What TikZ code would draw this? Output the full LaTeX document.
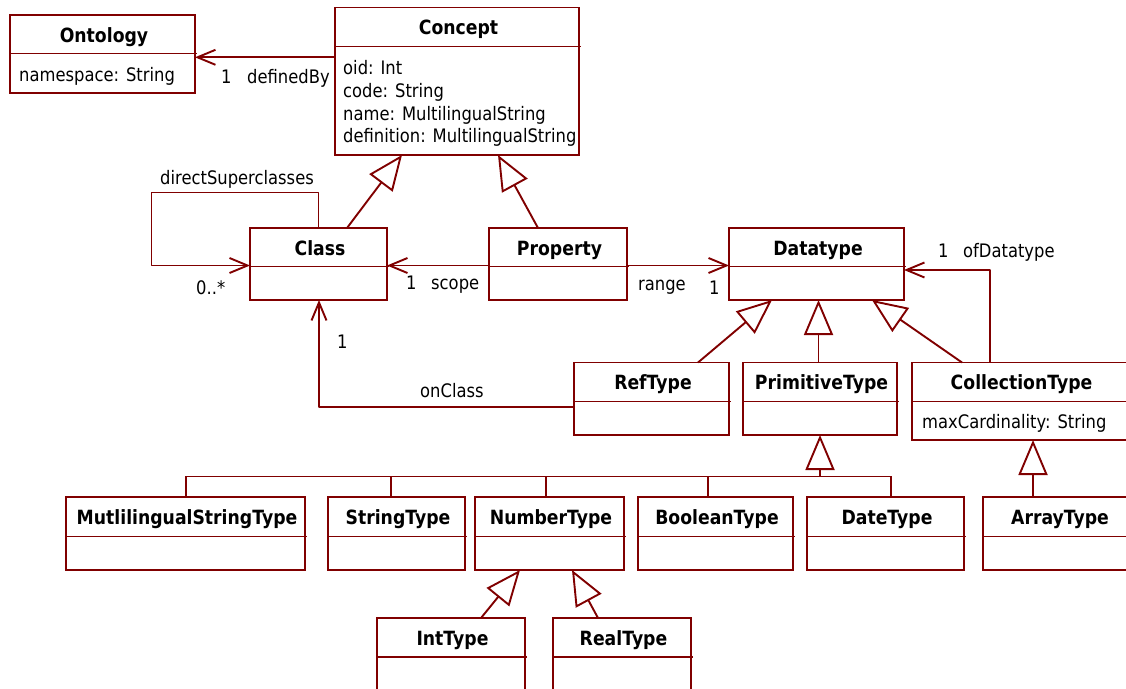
\documentclass[tikz,border=0pt]{standalone}
\usepackage{fontspec}
\setmainfont{DejaVu Sans}[FakeStretch=0.88]
\usetikzlibrary{arrows.meta}
\definecolor{umlred}{RGB}{128,0,0}

% UML class box: #1 name, #2 x1, #3 y1, #4 x2, #5 y2, #6 divider y, #7 title
\newcommand\umlclass[7]{%
  \node[umlbox, minimum width={(#4-#2)*1pt}, minimum height={(#5-#3)*1pt}] (#1) at (#2,#3) {};
  \draw[umlline] (#2,#6) -- ({#4+2},#6);
  \node[umltitle] (#1-t) at ({(#2+#4)/2+1.5},{(#3+#6)/2+0.8}) {#7};
}

\begin{document}
\begin{tikzpicture}[x=1pt,y=-1pt,
  umlline/.style={draw=umlred, line width=1.9pt},
  umlbox/.style={umlline, rectangle, anchor=north west, inner sep=0pt, outer sep=0pt},
  umltitle/.style={font=\fontsize{19.6}{23}\selectfont\bfseries, inner sep=0pt, text height=14.3pt, text depth=0pt},
  txt/.style={font=\fontsize{18.6}{23}\selectfont, inner sep=0pt, text height=13.4pt, text depth=0pt, anchor=west},
  assoc/.style={umlline, line join=round, -{Straight Barb[length=18pt,width=15pt]}},
  gen/.style={umlline, line join=round, -{Triangle[open,length=35pt,width=29pt]}},
]
\clip (0,0) rectangle (1126,688);

% classes
\umlclass{ontology}{10}{15}{195}{93}{53.5}{Ontology}
\umlclass{concept}{335}{7.5}{579}{155}{46.5}{Concept}
\umlclass{class}{250}{228}{387}{300}{266.5}{Class}
\umlclass{property}{489}{228}{627}{300}{266.5}{Property}
\umlclass{datatype}{729}{228}{904}{300}{266.5}{Datatype}
\umlclass{reftype}{574}{362.5}{729}{435}{401.5}{RefType}
\umlclass{primtype}{743}{362.5}{897}{435}{401.5}{PrimitiveType}
\umlclass{colltype}{912}{362.5}{1128}{440}{401.5}{CollectionType}
\umlclass{mlstype}{66}{497}{305}{570}{536.5}{MutlilingualStringType}
\umlclass{strtype}{328}{497}{465}{570}{536.5}{StringType}
\umlclass{numtype}{475}{497}{624}{570}{536.5}{NumberType}
\umlclass{booltype}{638}{497}{793}{570}{536.5}{BooleanType}
\umlclass{datetype}{807}{497}{964}{570}{536.5}{DateType}
\umlclass{arrtype}{983}{497}{1134}{570}{536.5}{ArrayType}
\umlclass{inttype}{377}{618}{525}{700}{657}{IntType}
\umlclass{realtype}{553}{618}{691}{700}{657}{RealType}

% attributes
\node[txt] (ontology-a1) at (19,75) {namespace: String};
\node[txt] (concept-a1) at (343,68) {oid: Int};
\node[txt] (concept-a2) at (343,90.7) {code: String};
\node[txt] (concept-a3) at (343,113.3) {name: MultilingualString};
\node[txt] (concept-a4) at (343,136) {definition: MultilingualString};
\node[txt] (colltype-a1) at (922,421.5) {maxCardinality: String};

% associations
\draw[assoc] (concept.west |- 0,57.3) -- (ontology.east |- 0,57.3);
\draw[assoc] (class.north -| 318.5,0) -- (318.5,192.5) -- (151.5,192.5) -- (151.5,265.5) -- (class.west |- 0,265.5);
\draw[assoc] (property.west |- 0,265.5) -- (class.east |- 0,265.5);
\draw[assoc] (property.east |- 0,265.5) -- (datatype.west |- 0,265.5);
\draw[assoc] (colltype.north -| 990,0) -- (990,270) -- (datatype.east |- 0,270);
\draw[assoc] (reftype.west |- 0,407) -- (319,407) -- (class.south -| 319,0);

% association labels
\node[txt] (defby-m) at (221,77) {1};
\node[txt] (defby) at (247,77) {definedBy};
\node[txt] (dsc) at (160,178) {directSuperclasses};
\node[txt] (dsc-m) at (196,288) {0..*};
\node[txt] (scope-m) at (406,283) {1};
\node[txt] (scope) at (431,283) {scope};
\node[txt] (range) at (638,283.5) {range};
\node[txt] (range-m) at (709,288) {1};
\node[txt] (ofdt-m) at (938,251) {1};
\node[txt] (ofdt) at (963,251) {ofDatatype};
\node[txt] (oncl-m) at (337,341.5) {1};
\node[txt] (oncl) at (420,391) {onClass};

% generalizations
\draw[gen] (class.north -| 347,0) -- (concept.south -| 402,0);
\draw[gen] (property.north -| 538,0) -- (concept.south -| 498,0);
\draw[gen] (reftype.north -| 698,0) -- (datatype.south -| 772,0);
\draw[gen] (primtype.north -| 818.5,0) -- (datatype.south -| 818.5,0);
\draw[gen] (colltype.north -| 962,0) -- (datatype.south -| 872,0);

% shared generalization tree of the primitive types
\coordinate (bus) at (820,476.5);
\draw[umlline] (mlstype.north -| 186,0) |- (bus);
\draw[umlline] (strtype.north -| 391,0) |- (bus);
\draw[umlline] (numtype.north -| 546,0) |- (bus);
\draw[umlline] (booltype.north -| 708,0) |- (bus);
\draw[umlline] (datetype.north -| 891,0) |- (bus);
\draw[gen] (bus) -- (primtype.south -| bus);

\draw[gen] (arrtype.north -| 1033,0) -- (colltype.south -| 1033,0);
\draw[gen] (inttype.north -| 481,0) -- (numtype.south -| 520,0);
\draw[gen] (realtype.north -| 598,0) -- (numtype.south -| 572,0);
\end{tikzpicture}
\end{document}
